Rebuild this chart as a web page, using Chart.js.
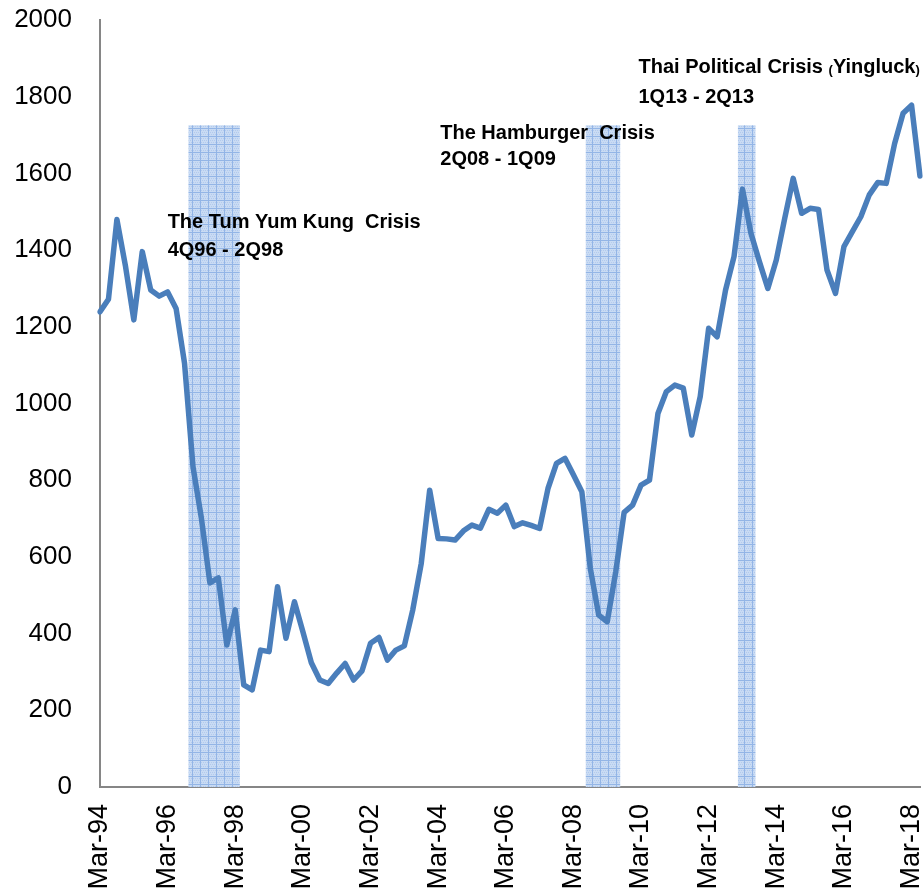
<!DOCTYPE html>
<html>
<head>
<meta charset="utf-8">
<script src="https://cdn.jsdelivr.net/npm/chart.js@4.4.1/dist/chart.umd.min.js"></script>
<style>
  html, body { margin: 0; padding: 0; background: #fff; }
  #wrap { position: relative; width: 924px; height: 896px; }
</style>
</head>
<body>
<div id="wrap"><canvas id="chart"></canvas></div>
<script>
// Quarterly categories, Mar-94 .. Jun-18
const MONTHS = ['Mar', 'Jun', 'Sep', 'Dec'];
const quarters = [];
for (let y = 1994; y <= 2018; y++) {
    for (const m of MONTHS) {
        if (y === 2018 && m === 'Sep') break;
        quarters.push(m + '-' + String(y % 100).padStart(2, '0'));
    }
}

// Index level
const indexValues = [
    1239, 1272, 1480, 1360, 1218, 1396, 1296, 1280, 1291, 1248,
    1105, 835, 700, 532, 545, 370, 462, 266, 253, 357,
    353, 522, 388, 483, 405, 324, 279, 270, 297, 322,
    279, 303, 375, 390, 331, 357, 368, 462, 583, 774,
    648, 647, 644, 668, 683, 675, 724, 714, 735, 679,
    689, 682, 674, 779, 844, 857, 814, 770, 570, 448,
    431, 560, 716, 735, 787, 800, 974, 1031, 1048, 1040,
    918, 1018, 1196, 1174, 1296, 1383, 1559, 1444, 1370, 1300,
    1374, 1483, 1587, 1496, 1509, 1506, 1348, 1287, 1409, 1448,
    1487, 1544, 1576, 1574, 1678, 1757, 1778, 1593
];

// Shaded crisis periods
const crisisQuarters = [
    'Dec-96', 'Mar-97', 'Jun-97', 'Sep-97', 'Dec-97', 'Mar-98',
    'Sep-08', 'Dec-08', 'Mar-09', 'Jun-09',
    'Mar-13', 'Jun-13'
];
const crisisTop = 1725;
const crisisBars = quarters.map(q => crisisQuarters.includes(q) ? crisisTop : null);

// Crisis captions: [category position, value, text]
const captions = [
    [8, 1473, 'The Tum Yum Kung  Crisis'],
    [8, 1400, '4Q96 - 2Q98'],
    [40.25, 1705, 'The Hamburger  Crisis'],
    [40.25, 1635, '2Q08 - 1Q09'],
    [63.7, 1875, ['Thai Political Crisis ', '(', 'Yingluck', ')']],
    [63.7, 1799, '1Q13 - 2Q13'],
];

const yTicks = [0, 200, 400, 600, 800, 1000, 1200, 1400, 1600, 1800, 2000];

function hatchPattern(ctx) {
    const c = document.createElement('canvas');
    c.width = 8; c.height = 8;
    const g = c.getContext('2d');
    g.fillStyle = '#c9dbf3';
    g.fillRect(0, 0, 8, 8);
    g.fillStyle = '#b2caee';
    for (let y = 0; y < 8; y += 2)
        for (let x = (y / 2) % 2; x < 8; x += 2) g.fillRect(x, y, 1, 1);
    g.fillStyle = '#93b5e6';
    g.fillRect(0, 0, 8, 1);
    g.fillRect(0, 0, 1, 8);
    return ctx.createPattern(c, 'repeat');
}

const captionPlugin = {
    id: 'captions',
    afterDatasetsDraw(chart) {
        const { ctx, scales: { x, y } } = chart;
        ctx.save();
        ctx.fillStyle = '#000';
        ctx.textBaseline = 'middle';
        ctx.textAlign = 'left';
        const big = "bold 20px 'Liberation Sans', Arial, sans-serif";
        const small = "bold 13px 'Liberation Sans', Arial, sans-serif";
        for (const [cx, cy, text] of captions) {
            let px = x.getPixelForValue(cx);
            const py = y.getPixelForValue(cy);
            const parts = Array.isArray(text) ? text : [text];
            for (const p of parts) {
                const paren = p === '(' || p === ')';
                ctx.font = paren ? small : big;
                ctx.fillText(p, px, py + (paren ? 2 : 0));
                px += ctx.measureText(p).width;
            }
        }
        ctx.restore();
    }
};

const canvas = document.getElementById('chart');
const ctx = canvas.getContext('2d');

new Chart(canvas, {
    type: 'line',
    data: {
        labels: quarters,
        datasets: [
            {
                type: 'line',
                data: indexValues,
                borderColor: '#4a7ebb',
                borderWidth: 5.5,
                pointRadius: 0,
                tension: 0,
                borderJoinStyle: 'round',
                borderCapStyle: 'round',
                order: 1,
            },
            {
                type: 'bar',
                data: crisisBars,
                backgroundColor: hatchPattern(ctx),
                borderWidth: 0,
                barPercentage: 1,
                categoryPercentage: 1,
                order: 2,
            },
        ],
    },
    options: {
        responsive: true,
        maintainAspectRatio: false,
        animation: false,
        layout: { padding: { top: 20, right: 4, left: 13, bottom: 0 } },
        plugins: { legend: { display: false }, tooltip: { enabled: false } },
        scales: {
            x: {
                offset: false,
                grid: { display: false, drawTicks: false },
                border: { display: true, color: '#868686', width: 2 },
                afterFit: s => { s.height = 109; s.paddingLeft = 0; s.paddingRight = 0; },
                ticks: {
                    autoSkip: false,
                    maxRotation: 90,
                    minRotation: 90,
                    padding: 17,
                    color: '#000',
                    font: { family: "'Liberation Sans', Arial, sans-serif", size: 27 },
                    callback: (v, i) => (i % 8 === 0 ? quarters[i] : ''),
                },
            },
            y: {
                min: 0,
                max: 2000,
                afterBuildTicks: s => { s.ticks = yTicks.map(v => ({ value: v })); },
                afterFit: s => { s.width = 87; s.paddingTop = 0; s.paddingBottom = 0; },
                grid: { display: false, drawTicks: false },
                border: { display: true, color: '#868686', width: 2 },
                ticks: {
                    padding: 28,
                    color: '#000',
                    font: { family: "'Liberation Sans', Arial, sans-serif", size: 26 },
                    callback: v => String(v),
                },
            },
        },
    },
    plugins: [captionPlugin],
});
</script>
</body>
</html>
